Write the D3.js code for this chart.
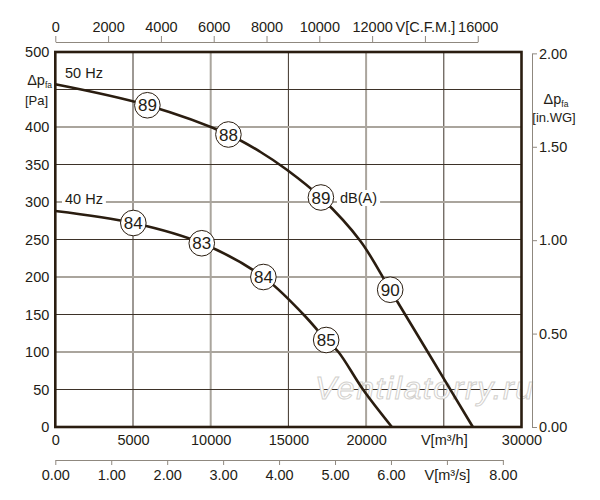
<!DOCTYPE html>
<html>
<head>
<meta charset="utf-8">
<script src="https://cdn.jsdelivr.net/npm/d3@7"></script>
<style>
  body { margin: 0; background: #fff; }
  text { font-family: "Liberation Sans", Arial, sans-serif; fill: #231c15; }
</style>
</head>
<body>
<script>
const svgW = 600;
const svgH = 500;

// 50 Hz curve
const flow50 = [0, 5925, 11140, 13180, 14900, 17090, 19630, 21550, 23910, 26870];
const pres50 = [457, 429, 390, 367, 343, 306, 248, 183, 102, 0];
// 40 Hz curve
const flow40 = [0, 5020, 9425, 13390, 15970, 17430, 18220, 19800, 21660];
const pres40 = [288, 272, 245, 200, 150, 116, 100, 50, 0];
// sound level markers dB(A)
const mark50Flow = [5925, 11140, 17090, 21550];
const mark50Pres = [429, 390, 306, 183];
const mark50dB = [89, 88, 89, 90];
const mark40Flow = [5020, 9425, 13390, 17430];
const mark40Pres = [272, 245, 200, 116];
const mark40dB = [84, 83, 84, 85];

// ticks
const flowTicks = [0, 5000, 10000, 15000, 20000, 25000, 30000];
const presTicks = [0, 50, 100, 150, 200, 250, 300, 350, 400, 450, 500];
const cfmTicks = [0, 2000, 4000, 6000, 8000, 10000, 12000, 14000, 16000];
const m3sTicks = [0, 1, 2, 3, 4, 5, 6, 7, 8];
const inwgTicks = [0, 0.5, 1, 1.5, 2];

const svg = d3.select('body')
  .append('svg')
  .attr('width', svgW)
  .attr('height', svgH);

const x = d3.scaleLinear().domain([0, 30000]).range([55.3, 521.5]);
const y = d3.scaleLinear().domain([0, 500]).range([427, 52]);
// other units, same plot
const xCfm = d3.scaleLinear().domain([0, 16000]).range([x(0), x(16000 * 1.699)]);
const xM3s = d3.scaleLinear().domain([0, 8]).range([x(0), x(8 * 3600)]);
const yIn = d3.scaleLinear().domain([0, 2]).range([y(0), y(2 * 249.09)]);

const gray = '#aaa59d';
const dark = '#3d3228';
const ink = '#2a1d10';

// grid
svg.append('g').selectAll('line')
  .data(flowTicks.slice(1, -1))
  .enter().append('line')
  .attr('x1', d => x(d)).attr('x2', d => x(d))
  .attr('y1', y(0)).attr('y2', y(500))
  .attr('stroke', d => d % 10000 === 0 ? gray : dark)
  .attr('stroke-width', d => d % 10000 === 0 ? 2 : 1);

svg.append('g').selectAll('line')
  .data(presTicks.slice(1, -1))
  .enter().append('line')
  .attr('x1', x(0)).attr('x2', x(30000))
  .attr('y1', d => y(d)).attr('y2', d => y(d))
  .attr('stroke', d => d % 100 === 0 ? gray : dark)
  .attr('stroke-width', d => d % 100 === 0 ? 2 : 1);

// watermark
svg.append('text')
  .attr('x', 315).attr('y', 399)
  .style('font-size', '32px')
  .style('font-style', 'italic')
  .style('letter-spacing', '1.6px')
  .style('fill', '#fff')
  .attr('stroke', '#d2d0cd')
  .attr('stroke-width', 1)
  .text('Ventilatorry.ru');

// curves
const line = d3.line()
  .x(d => x(d[0]))
  .y(d => y(d[1]))
  .curve(d3.curveCatmullRom.alpha(0.5));

[[flow50, pres50], [flow40, pres40]].forEach(([f, p]) => {
  svg.append('path')
    .datum(f.map((v, i) => [v, p[i]]))
    .attr('d', line)
    .attr('fill', 'none')
    .attr('stroke', ink)
    .attr('stroke-width', 2.6);
});

// frame
svg.append('rect')
  .attr('x', x(0)).attr('y', y(500))
  .attr('width', x(30000) - x(0))
  .attr('height', y(0) - y(500))
  .attr('fill', 'none')
  .attr('stroke', ink)
  .attr('stroke-width', 2.6);

// labels with white backing
function boxLabel(tx, ty, str, size) {
  const t = svg.append('text')
    .attr('x', tx).attr('y', ty)
    .style('font-size', size + 'px')
    .text(str);
  const b = t.node().getBBox();
  svg.insert('rect', () => t.node())
    .attr('x', b.x - 3).attr('y', b.y)
    .attr('width', b.width + 6).attr('height', b.height)
    .attr('fill', '#fff');
}
boxLabel(65, 78, '50 Hz', 14.5);
boxLabel(65, 204, '40 Hz', 14.5);
boxLabel(340, 203, 'dB(A)', 14.5);

// markers
[[mark50Flow, mark50Pres, mark50dB], [mark40Flow, mark40Pres, mark40dB]].forEach(([f, p, db]) => {
  const mg = svg.append('g').selectAll('g')
    .data(f.map((v, i) => ({ f: v, p: p[i], db: db[i] })))
    .enter().append('g')
    .attr('transform', d => `translate(${x(d.f)}, ${y(d.p)})`);
  mg.append('circle')
    .attr('r', 12.8)
    .attr('fill', '#fff')
    .attr('stroke', ink)
    .attr('stroke-width', 1);
  mg.append('text')
    .attr('text-anchor', 'middle')
    .attr('dy', '0.36em')
    .style('font-size', '17px')
    .text(d => d.db);
});

// axis helper
function styleAxis(g, size) {
  g.selectAll('text').style('font-size', size + 'px').attr('fill', null);
  g.selectAll('.domain, line').attr('stroke', '#8f887f');
  g.attr('font-family', null);
}

// top axis C.F.M.
const topAxis = d3.axisTop(xCfm)
  .tickValues(cfmTicks)
  .tickSize(6).tickSizeOuter(0).tickPadding(4)
  .tickFormat(d => d === 14000 ? 'V[C.F.M.]' : d);
svg.append('g')
  .attr('transform', 'translate(0, 42)')
  .call(topAxis)
  .call(g => styleAxis(g, 14.5));

// bottom flow labels m3/h
const flowAxis = d3.axisBottom(x)
  .tickValues(flowTicks)
  .tickSize(0).tickPadding(8)
  .tickFormat(d => d === 25000 ? 'V[m³/h]' : d);
svg.append('g')
  .attr('transform', `translate(0, ${y(0)})`)
  .call(flowAxis)
  .call(g => g.select('.domain').remove())
  .call(g => styleAxis(g, 14.5));

// bottom axis m3/s
const m3sAxis = d3.axisBottom(xM3s)
  .tickValues(m3sTicks)
  .tickSize(5).tickSizeOuter(0).tickPadding(5)
  .tickFormat(d => d === 7 ? 'V[m³/s]' : d3.format('.2f')(d));
svg.append('g')
  .attr('transform', 'translate(0, 460)')
  .call(m3sAxis)
  .call(g => styleAxis(g, 14.5));

// left pressure labels
const presAxis = d3.axisLeft(y)
  .tickValues(presTicks.filter(d => d !== 450))
  .tickSize(0).tickPadding(6);
svg.append('g')
  .attr('transform', `translate(${x(0)}, 0)`)
  .call(presAxis)
  .call(g => g.select('.domain').remove())
  .call(g => styleAxis(g, 14.5));

// right in.WG axis
const inAxis = d3.axisRight(yIn)
  .tickValues(inwgTicks)
  .tickSize(5).tickSizeOuter(0).tickPadding(2)
  .tickFormat(d3.format('.2f'));
svg.append('g')
  .attr('transform', 'translate(532, 0)')
  .call(inAxis)
  .call(g => styleAxis(g, 14.5));

// unit labels
function dpLabel(tx, ty, anchor) {
  const t = svg.append('text')
    .attr('x', tx).attr('y', ty)
    .attr('text-anchor', anchor)
    .style('font-size', '14.5px');
  t.append('tspan').text('Δp');
  t.append('tspan').attr('dy', 2.5).style('font-size', '8.5px').text('fa');
}
dpLabel(52, 85, 'end');
svg.append('text').attr('x', 25).attr('y', 105).style('font-size', '13px').text('[Pa]');

dpLabel(556, 104, 'middle');
svg.append('text').attr('x', 554).attr('y', 122)
  .attr('text-anchor', 'middle').style('font-size', '13px').text('[in.WG]');
</script>
</body>
</html>
